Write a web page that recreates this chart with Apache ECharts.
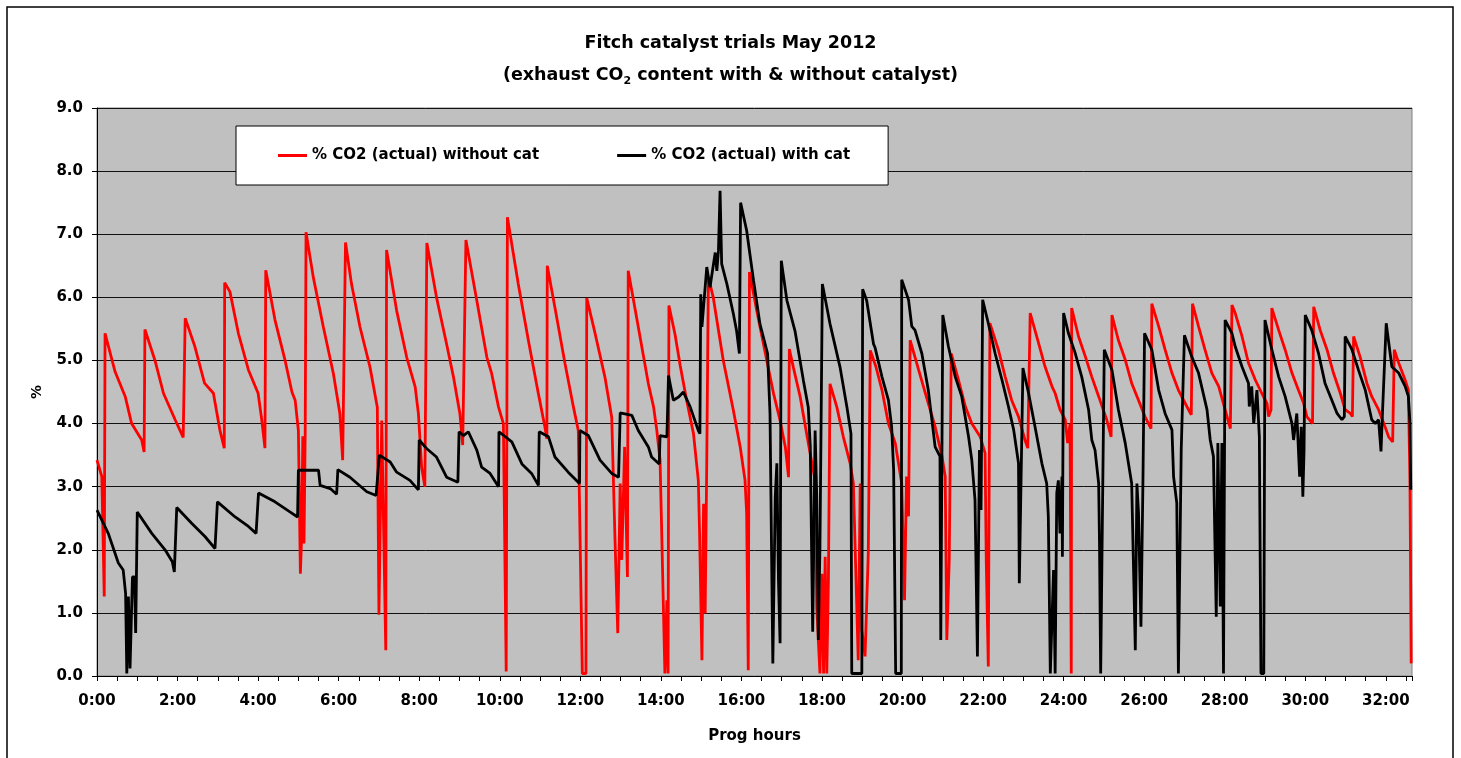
<!DOCTYPE html>
<html>
<head>
<meta charset="utf-8">
<script src="https://cdn.jsdelivr.net/npm/echarts@6/dist/echarts.min.js"></script>
<style>
  html, body { margin: 0; padding: 0; background: #fff; }
  #chart { width: 1461px; height: 758px; }
</style>
</head>
<body>
<div id="chart"></div>
<script>
// [prog hours, % CO2]
const co2WithoutCat = [
  [0,3.42],[0.12,3.16],[0.18,1.26],[0.2,5.43],[0.45,4.82],[0.7,4.43],[0.86,4.0],[1.11,3.74],[1.17,3.55],
  [1.19,5.49],[1.44,5.0],[1.65,4.48],[1.94,4.06],[2.14,3.78],
  [2.19,5.67],[2.43,5.22],[2.67,4.64],[2.89,4.48],[3.05,3.9],[3.16,3.61],
  [3.17,6.23],[3.3,6.09],[3.51,5.43],[3.76,4.85],[4.0,4.48],[4.08,4.11],[4.17,3.61],
  [4.19,6.43],[4.42,5.64],[4.67,5.0],[4.84,4.5],[4.92,4.37],[5.0,3.89],[5.02,3.0],[5.05,1.62],[5.08,2.2],[5.11,3.8],[5.14,2.1],[5.17,3.9],
  [5.19,7.03],[5.37,6.32],[5.62,5.53],[5.87,4.79],[6.03,4.16],[6.1,3.42],
  [6.17,6.87],[6.32,6.21],[6.53,5.53],[6.78,4.89],[6.96,4.26],[7.0,0.97],[7.07,4.05],[7.17,0.41],
  [7.19,6.75],[7.44,5.79],[7.69,5.05],[7.9,4.58],[7.98,4.16],[8.06,3.31],[8.14,3.0],
  [8.19,6.86],[8.43,6.0],[8.68,5.26],[8.85,4.74],[9.01,4.16],[9.08,3.66],
  [9.16,6.91],[9.43,5.95],[9.68,5.05],[9.8,4.79],[9.97,4.26],[10.09,4.0],[10.16,0.07],
  [10.19,7.27],[10.46,6.21],[10.71,5.32],[10.96,4.47],[11.12,3.95],[11.17,3.76],
  [11.18,6.5],[11.37,5.84],[11.62,4.95],[11.83,4.26],[11.95,3.89],[12.05,0.04],[12.14,0.04],
  [12.16,5.99],[12.37,5.42],[12.61,4.74],[12.78,4.1],[12.82,3.15],[12.86,2.2],[12.93,0.68],[12.99,3.05],[13.03,1.84],[13.1,3.63],[13.17,1.57],
  [13.19,6.42],[13.44,5.53],[13.69,4.63],[13.82,4.26],[13.9,3.89],[13.98,3.42],[14.02,2.31],[14.1,0.04],[14.15,1.2],[14.18,0.04],
  [14.2,5.87],[14.35,5.42],[14.48,4.92],[14.64,4.37],[14.81,3.84],[14.93,3.1],[14.96,2.31],[15.02,0.25],[15.06,2.73],[15.1,0.99],[15.14,3.42],
  [15.18,6.32],[15.3,6.0],[15.55,5.0],[15.8,4.21],[15.97,3.63],[16.09,3.1],[16.13,2.57],[16.17,0.09],
  [16.2,6.4],[16.38,5.79],[16.63,5.0],[16.8,4.47],[16.96,4.05],[17.09,3.63],[17.17,3.15],
  [17.19,5.18],[17.29,4.89],[17.46,4.42],[17.62,3.84],[17.75,3.37],[17.83,3.1],[17.87,1.1],[17.95,0.04],[18.0,1.62],[18.04,0.04],[18.08,1.89],[18.12,0.04],[18.16,1.52],
  [18.2,4.63],[18.37,4.26],[18.53,3.79],[18.7,3.37],[18.78,3.05],[18.86,1.2],[18.9,0.25],[18.95,3.05],[18.99,0.73],[19.07,0.31],[19.15,1.94],
  [19.2,5.16],[19.34,4.9],[19.49,4.53],[19.65,4.0],[19.82,3.69],[19.9,3.37],[19.98,3.05],[20.05,1.2],[20.1,3.16],[20.15,2.53],
  [20.19,5.32],[20.4,4.85],[20.64,4.32],[20.81,3.95],[20.98,3.48],[21.06,3.16],[21.1,0.57],[21.16,1.84],
  [21.21,5.11],[21.39,4.69],[21.56,4.27],[21.72,4.0],[21.93,3.79],[22.05,3.53],[22.08,1.79],[22.13,0.15],
  [22.17,5.59],[22.38,5.17],[22.55,4.74],[22.71,4.37],[22.88,4.11],[23.04,3.74],[23.11,3.61],
  [23.17,5.75],[23.38,5.27],[23.54,4.9],[23.71,4.59],[23.79,4.48],[23.91,4.22],[24.04,4.06],[24.1,3.69],[24.16,4.0],[24.19,0.04],
  [24.2,5.83],[24.37,5.38],[24.54,5.06],[24.7,4.74],[24.87,4.43],[25.07,4.06],[25.18,3.79],
  [25.2,5.72],[25.36,5.32],[25.53,5.01],[25.69,4.64],[25.86,4.37],[26.02,4.11],[26.17,3.92],
  [26.19,5.9],[26.36,5.54],[26.52,5.17],[26.69,4.8],[26.85,4.53],[27.06,4.27],[27.17,4.14],
  [27.2,5.9],[27.35,5.54],[27.51,5.17],[27.68,4.8],[27.85,4.59],[28.01,4.22],[28.14,3.92],
  [28.18,5.88],[28.26,5.75],[28.43,5.38],[28.59,4.96],[28.76,4.69],[28.92,4.48],[29.05,4.32],[29.09,4.11],[29.15,4.22],
  [29.17,5.83],[29.34,5.48],[29.5,5.17],[29.67,4.8],[29.83,4.53],[29.96,4.32],[30.04,4.11],[30.18,4.0],
  [30.21,5.85],[30.37,5.48],[30.54,5.17],[30.7,4.8],[30.87,4.48],[30.99,4.22],[31.12,4.16],[31.17,4.11],
  [31.2,5.38],[31.36,5.06],[31.53,4.64],[31.65,4.43],[31.82,4.22],[31.98,3.95],[32.07,3.79],[32.17,3.71],
  [32.21,5.17],[32.32,4.96],[32.48,4.69],[32.56,4.53],[32.6,3.05],[32.63,0.2]
];

const co2WithCat = [
  [0,2.63],[0.28,2.26],[0.53,1.79],[0.65,1.68],[0.71,1.31],[0.74,0.04],[0.78,1.26],[0.82,0.12],[0.88,1.57],[0.93,1.57],[0.96,0.68],
  [1.0,2.6],[1.36,2.26],[1.69,2.0],[1.87,1.81],[1.92,1.65],
  [1.98,2.67],[2.35,2.42],[2.68,2.21],[2.93,2.02],
  [2.99,2.76],[3.43,2.52],[3.76,2.37],[3.95,2.26],
  [4.01,2.9],[4.42,2.76],[4.79,2.6],[4.98,2.52],
  [5.0,3.26],[5.5,3.26],[5.54,3.02],[5.79,2.97],[5.95,2.88],
  [5.98,3.27],[6.28,3.15],[6.7,2.92],[6.93,2.86],
  [7.01,3.5],[7.28,3.39],[7.44,3.23],[7.77,3.1],[7.98,2.95],
  [8.0,3.74],[8.19,3.6],[8.43,3.47],[8.68,3.15],[8.96,3.07],
  [8.99,3.87],[9.1,3.81],[9.22,3.87],[9.43,3.58],[9.55,3.31],[9.76,3.21],[9.8,3.18],[9.97,3.0],
  [9.98,3.87],[10.3,3.71],[10.55,3.36],[10.79,3.21],[10.96,3.02],
  [10.98,3.87],[11.21,3.79],[11.37,3.47],[11.7,3.23],[11.98,3.05],
  [11.99,3.89],[12.2,3.81],[12.49,3.42],[12.78,3.21],[12.95,3.15],
  [12.99,4.17],[13.28,4.13],[13.44,3.89],[13.69,3.63],[13.77,3.47],[13.96,3.36],[13.98,3.81],[14.15,3.79],
  [14.19,4.76],[14.31,4.37],[14.44,4.42],[14.56,4.5],[14.73,4.26],[14.93,3.89],[14.97,3.84],
  [14.99,6.05],[15.02,5.53],[15.14,6.48],[15.22,6.16],[15.35,6.71],[15.39,6.42],[15.43,6.74],[15.47,7.69],[15.51,6.53],[15.64,6.21],[15.8,5.74],[15.88,5.47],[15.95,5.11],
  [15.98,7.5],[16.13,7.06],[16.3,6.27],[16.46,5.58],[16.65,5.11],[16.71,4.16],[16.78,0.2],[16.84,2.84],[16.88,3.37],[16.92,1.52],[16.96,0.52],
  [16.99,6.58],[17.13,5.95],[17.33,5.47],[17.54,4.68],[17.66,4.26],[17.71,3.63],[17.77,0.7],[17.83,3.89],[17.87,2.84],[17.91,0.57],[17.95,2.05],
  [18.01,6.21],[18.2,5.58],[18.45,4.89],[18.62,4.26],[18.72,3.84],[18.74,0.04],[18.99,0.04],
  [19.01,6.13],[19.11,5.95],[19.28,5.26],[19.32,5.2],[19.49,4.74],[19.65,4.37],[19.73,3.95],[19.78,3.26],[19.83,0.04],[19.97,0.04],
  [19.98,6.28],[20.15,5.96],[20.23,5.54],[20.31,5.48],[20.48,5.11],[20.64,4.53],[20.81,3.63],[20.93,3.48],[20.95,0.57],
  [21.0,5.72],[21.14,5.22],[21.31,4.74],[21.47,4.43],[21.64,3.79],[21.72,3.42],[21.8,2.79],[21.86,0.31],[21.91,3.58],[21.95,2.63],
  [21.99,5.96],[22.13,5.59],[22.3,5.11],[22.47,4.69],[22.63,4.27],[22.76,3.9],[22.88,3.37],[22.9,1.47],
  [22.99,4.88],[23.13,4.48],[23.29,3.95],[23.46,3.37],[23.58,3.05],[23.62,2.53],[23.67,0.04],[23.75,1.68],[23.79,0.04],[23.83,2.9],[23.87,3.1],[23.91,2.26],[23.96,3.16],[23.97,1.89],
  [24.0,5.75],[24.12,5.43],[24.29,5.11],[24.45,4.74],[24.62,4.22],[24.7,3.74],[24.78,3.58],[24.87,3.05],[24.89,2.16],[24.92,0.04],
  [25.01,5.17],[25.2,4.85],[25.36,4.22],[25.53,3.69],[25.69,3.05],[25.78,0.41],[25.82,3.05],[25.86,2.58],[25.92,0.78],[25.97,3.1],
  [26.01,5.43],[26.19,5.17],[26.36,4.53],[26.52,4.16],[26.69,3.9],[26.73,3.16],[26.81,2.74],[26.85,0.04],[26.92,3.58],
  [27.0,5.4],[27.18,5.06],[27.35,4.8],[27.56,4.22],[27.64,3.74],[27.72,3.48],[27.76,2.0],[27.79,0.94],[27.83,3.69],[27.89,1.1],[27.93,3.69],[27.97,0.04],
  [28.01,5.64],[28.18,5.43],[28.26,5.22],[28.43,4.9],[28.59,4.64],[28.61,4.27],[28.67,4.59],[28.72,4.0],[28.8,4.53],[28.86,3.79],[28.9,0.04],[28.97,0.04],
  [29.0,5.64],[29.17,5.17],[29.34,4.74],[29.5,4.43],[29.67,4.0],[29.71,3.74],[29.79,4.16],[29.86,3.16],[29.9,3.95],[29.94,2.84],[29.97,3.58],
  [30.0,5.72],[30.16,5.48],[30.33,5.11],[30.49,4.64],[30.66,4.37],[30.79,4.16],[30.91,4.06],[30.97,4.11],
  [30.99,5.38],[31.16,5.17],[31.32,4.85],[31.49,4.53],[31.65,4.06],[31.74,4.0],[31.82,4.06],[31.88,3.56],[31.92,4.22],
  [32.01,5.59],[32.15,4.9],[32.32,4.8],[32.48,4.59],[32.56,4.43],[32.6,4.0],[32.62,2.95]
];

const seriesNames = ['% CO2 (actual) without cat', '% CO2 (actual) with cat'];
const seriesColors = ['#ff0000', '#000000'];

const FONT = 'DejaVu Sans';
const chart = echarts.init(document.getElementById('chart'));

chart.setOption({
  animation: false,
  backgroundColor: '#fff',
  title: {
    left: 'center',
    top: 22,
    text: '{t|Fitch catalyst trials May 2012}\n{t|(exhaust CO}{s|2}{t| content with & without catalyst)}',
    textStyle: {
      rich: {
        t: { fontFamily: FONT, fontWeight: 'bold', fontSize: 17.5, lineHeight: 32, color: '#000' },
        s: { fontFamily: FONT, fontWeight: 'bold', fontSize: 11, lineHeight: 20, padding: [12, 0, 0, 0], color: '#000' }
      }
    }
  },
  legend: {
    left: 236,
    top: 126,
    padding: [22, 38, 22, 42],
    itemGap: 78,
    itemWidth: 29,
    itemHeight: 3,
    icon: 'rect',
    backgroundColor: '#fff',
    borderColor: '#000',
    borderWidth: 1,
    textStyle: { fontFamily: FONT, fontWeight: 'bold', fontSize: 15, color: '#000' },
    data: seriesNames
  },
  grid: {
    left: 97, top: 108, right: 49, bottom: 82,
    show: true,
    backgroundColor: '#c0c0c0',
    borderColor: '#808080',
    borderWidth: 1
  },
  xAxis: [{
    type: 'value',
    min: 0, max: 32.65, interval: 2,
    name: 'Prog hours',
    nameLocation: 'middle',
    nameGap: 53,
    nameTextStyle: { fontFamily: FONT, fontWeight: 'bold', fontSize: 15, color: '#000' },
    axisLine: { show: true, lineStyle: { color: '#000', width: 1 } },
    axisTick: { show: false },
    axisLabel: {
      margin: 18,
      showMaxLabel: false,
      fontFamily: FONT, fontWeight: 'bold', fontSize: 15, color: '#000',
      formatter: v => (v % 2 === 0 ? v + ':00' : '')
    },
    splitLine: { show: false }
  }, {
    // half-hour tick marks only
    type: 'value',
    position: 'bottom',
    min: 0, max: 32.65, interval: 0.5,
    axisLine: { show: false },
    axisTick: { show: true, inside: false, length: 5, lineStyle: { color: '#000', width: 1 } },
    axisLabel: { show: false },
    splitLine: { show: false }
  }],
  yAxis: {
    type: 'value',
    min: 0, max: 9, interval: 1,
    name: '%',
    nameLocation: 'middle',
    nameGap: 53,
    nameRotate: 90,
    nameTextStyle: { fontFamily: FONT, fontWeight: 'bold', fontSize: 14, color: '#000' },
    axisLine: { show: true, lineStyle: { color: '#000', width: 1 } },
    axisTick: { show: true, inside: false, length: 5, lineStyle: { color: '#000' } },
    axisLabel: {
      margin: 14,
      fontFamily: FONT, fontWeight: 'bold', fontSize: 15, color: '#000',
      formatter: v => v.toFixed(1)
    },
    splitLine: { show: true, lineStyle: { color: '#111', width: 1 } }
  },
  graphic: [{
    type: 'rect',
    z: 100,
    silent: true,
    shape: { x: 7, y: 7, width: 1446, height: 800 },
    style: { fill: 'none', stroke: '#000', lineWidth: 1.5 }
  }],
  series: [{
    name: seriesNames[0],
    type: 'line',
    xAxisIndex: 0,
    data: co2WithoutCat,
    symbol: 'none',
    color: seriesColors[0],
    lineStyle: { color: seriesColors[0], width: 2.8 }
  }, {
    name: seriesNames[1],
    type: 'line',
    xAxisIndex: 0,
    data: co2WithCat,
    symbol: 'none',
    color: seriesColors[1],
    lineStyle: { color: seriesColors[1], width: 2.8 }
  }]
});
</script>
</body>
</html>
